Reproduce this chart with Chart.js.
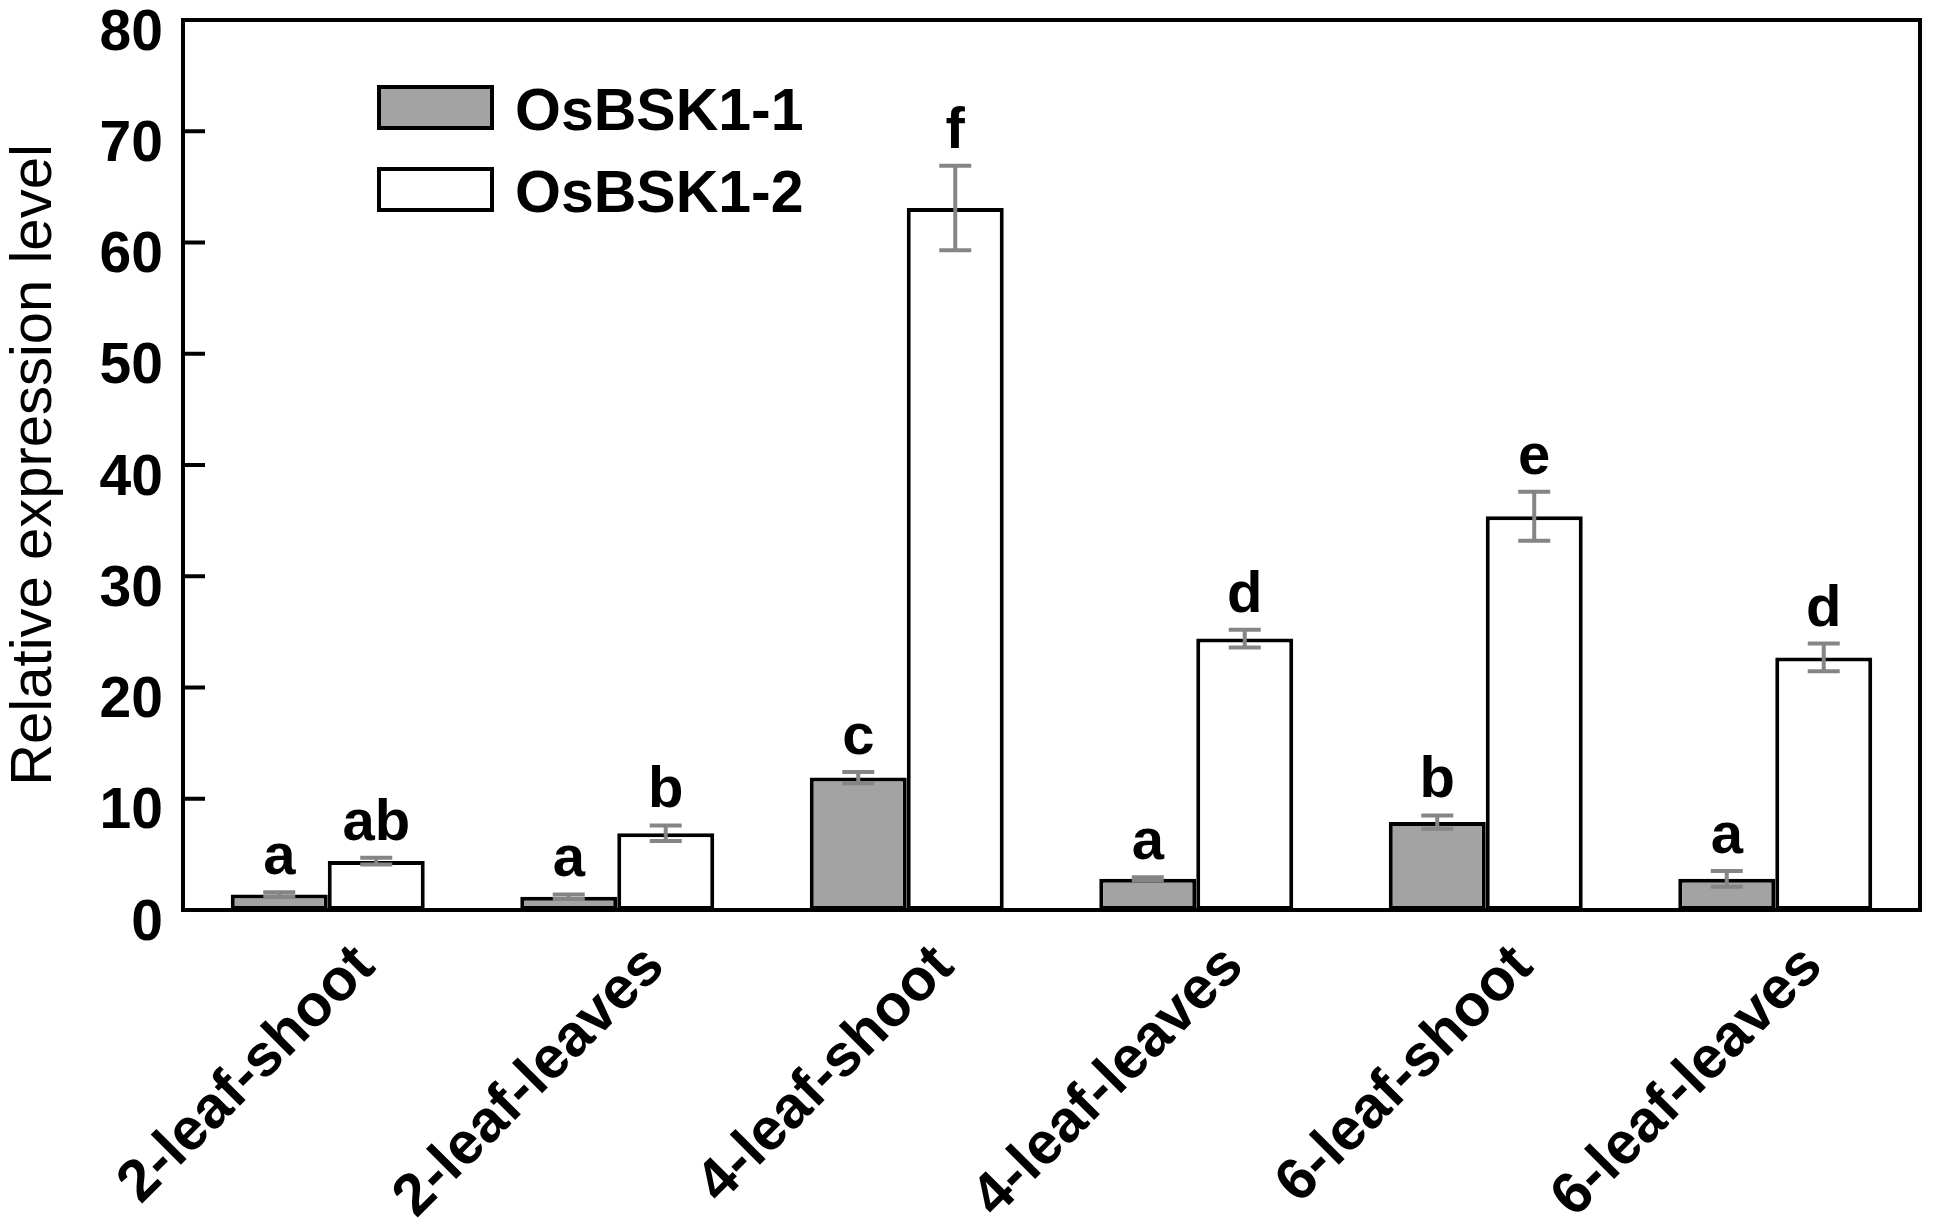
<!DOCTYPE html>
<html>
<head>
<meta charset="utf-8">
<script src="https://cdn.jsdelivr.net/npm/chart.js@4.4.1/dist/chart.umd.min.js"></script>
<style>
    html, body { margin: 0; padding: 0; background: #fff; }
    #wrap { width: 1933px; height: 1225px; }
</style>
</head>
<body>
<div id="wrap"><canvas id="expressionChart"></canvas></div>
<script>
// data
const categories = ['2-leaf-shoot', '2-leaf-leaves', '4-leaf-shoot', '4-leaf-leaves', '6-leaf-shoot', '6-leaf-leaves'];
const bsk1Values = [1.4, 1.2, 11.9, 2.8, 7.9, 2.8];
const bsk1Errors = [0.2, 0.2, 0.5, 0.15, 0.6, 0.7];
const bsk2Values = [4.4, 6.9, 63.1, 24.4, 35.4, 22.7];
const bsk2Errors = [0.3, 0.7, 3.8, 0.8, 2.2, 1.25];
const bsk1Letters = ['a', 'a', 'c', 'a', 'b', 'a'];
const bsk2Letters = ['ab', 'b', 'f', 'd', 'e', 'd'];
const yTicks = [0, 10, 20, 30, 40, 50, 60, 70, 80];

const FONT = '"Liberation Sans", Arial, sans-serif';
const errors = [bsk1Errors, bsk2Errors];
const letters = [bsk1Letters, bsk2Letters];

// error bars + significance letters
const errorBarPlugin = {
    id: 'errorBars',
    afterDatasetsDraw(chart) {
        const ctx = chart.ctx;
        const y = chart.scales.y;
        ctx.save();
        chart.data.datasets.forEach((ds, i) => {
            const meta = chart.getDatasetMeta(i);
            meta.data.forEach((bar, j) => {
                const v = ds.data[j], e = errors[i][j];
                const top = y.getPixelForValue(v + e);
                const bot = y.getPixelForValue(v - e);
                ctx.strokeStyle = '#858585';
                ctx.lineWidth = 4;
                ctx.beginPath();
                ctx.moveTo(bar.x, top); ctx.lineTo(bar.x, bot);
                ctx.moveTo(bar.x - 16, top); ctx.lineTo(bar.x + 16, top);
                ctx.moveTo(bar.x - 16, bot); ctx.lineTo(bar.x + 16, bot);
                ctx.stroke();
                ctx.fillStyle = '#000';
                ctx.font = 'bold 58px ' + FONT;
                ctx.textAlign = 'center';
                ctx.textBaseline = 'alphabetic';
                ctx.fillText(letters[i][j], bar.x, top - 18);
            });
        });
        ctx.restore();
    }
};

// box frame, inward ticks and the legend
const framePlugin = {
    id: 'frame',
    afterDraw(chart) {
        const ctx = chart.ctx;
        const a = chart.chartArea;
        const y = chart.scales.y;
        ctx.save();
        ctx.strokeStyle = '#000';
        ctx.lineWidth = 4;
        ctx.strokeRect(a.left, a.top, a.right - a.left, a.bottom - a.top);
        ctx.beginPath();
        yTicks.slice(1, -1).forEach(t => {
            const py = y.getPixelForValue(t);
            ctx.moveTo(a.left, py); ctx.lineTo(a.left + 22, py);
        });
        ctx.stroke();

        chart.data.datasets.forEach((ds, i) => {
            const bx = 379, by = 87 + i * 82, bw = 113, bh = 41;
            ctx.fillStyle = ds.backgroundColor;
            ctx.fillRect(bx, by, bw, bh);
            ctx.strokeRect(bx, by, bw, bh);
            ctx.fillStyle = '#000';
            ctx.font = 'bold 59px ' + FONT;
            ctx.textAlign = 'left';
            ctx.textBaseline = 'middle';
            ctx.fillText(ds.label, 515, by + bh / 2 + 6);
        });
        ctx.restore();
    }
};

new Chart(document.getElementById('expressionChart'), {
    type: 'bar',
    data: {
        labels: categories,
        datasets: [
            { label: 'OsBSK1-1', data: bsk1Values, backgroundColor: '#a3a3a3', borderColor: '#000', borderWidth: 4, borderSkipped: false },
            { label: 'OsBSK1-2', data: bsk2Values, backgroundColor: '#ffffff', borderColor: '#000', borderWidth: 4, borderSkipped: false }
        ]
    },
    options: {
        responsive: true,
        maintainAspectRatio: false,
        animation: false,
        datasets: { bar: { categoryPercentage: 0.67, barPercentage: 1.0 } },
        layout: { padding: { top: 20, right: 13, left: 0, bottom: 0 } },
        plugins: { legend: { display: false }, tooltip: { enabled: false } },
        scales: {
            x: {
                grid: { display: false },
                border: { display: false },
                ticks: {
                    color: '#000',
                    font: { family: FONT, size: 59, weight: 'bold' },
                    minRotation: 45, maxRotation: 45,
                    autoSkip: false,
                    padding: 14,
                    labelOffset: 38
                },
                afterFit(scale) { scale.height = 315; scale.paddingLeft = 0; scale.paddingRight = 0; }
            },
            y: {
                min: 0, max: 80,
                grid: { display: false },
                border: { display: false },
                ticks: {
                    stepSize: 10,
                    color: '#000',
                    font: { family: FONT, size: 57, weight: 'bold' },
                    padding: 12,
                    labelOffset: 14
                },
                title: {
                    display: true,
                    text: 'Relative expression level',
                    color: '#000',
                    font: { family: FONT, size: 58 },
                    padding: { top: 0, bottom: 0 }
                },
                afterFit(scale) { scale.width = 183; scale.paddingTop = 0; scale.paddingBottom = 0; }
            }
        }
    },
    plugins: [errorBarPlugin, framePlugin]
});
</script>
</body>
</html>
